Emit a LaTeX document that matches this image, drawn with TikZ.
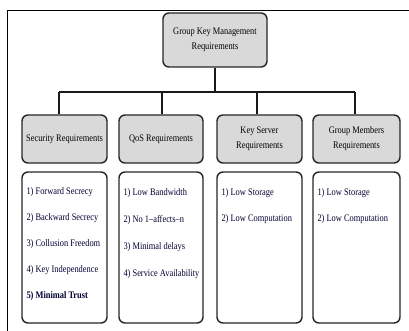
\documentclass[tikz,border=0pt]{standalone}
\usepackage{fontspec}
\setmainfont[FakeStretch=0.84]{Liberation Serif}
\usepackage{tikz}
\usetikzlibrary{calc,positioning}
\tikzset{
  head/.style={draw=black!85,line width=1.4pt,rounded corners=6pt,fill=black!15,
    align=center,font=\fontsize{10}{15}\selectfont,inner sep=0pt},
  listbox/.style={draw=black!85,line width=1.4pt,rounded corners=6pt,fill=white,
    minimum height=151pt,inner sep=0pt},
  item/.style={anchor=west,inner sep=0pt,font=\fontsize{10}{10}\selectfont,text=black!80!blue},
  link/.style={line width=1.3pt,draw=black!90}
}
\begin{document}
\begin{tikzpicture}[x=1pt,y=-1pt]
\useasboundingbox (0,0) rectangle (409,331);
\draw[line width=0.9pt] (7,345) |- (430,10);

\node[head,minimum width=104pt,minimum height=54pt] (gkm) at (215,40) {Group Key Management\\Requirements};

\foreach \n/\x/\w/\t in {sec/64.5/85/Security Requirements,
                         qos/161/84/QoS Requirements,
                         ks/259.5/85/{Key Server\\Requirements},
                         gm/356.5/87/{Group Members\\Requirements}}
{
  \node[head,minimum width=\w pt,minimum height=48pt] (\n) at (\x,139) {\t};
  \node[listbox,minimum width=\w pt] (\n-list) at (\x,247.5) {};
}

\coordinate (bus) at (215,92);
\coordinate (busL) at (59,92);
\coordinate (busR) at (355,92);
\draw[link] (gkm.south) -- (bus);
\draw[link] (busL) -- (busR);
\foreach \n/\dx in {sec/-5.5,qos/1,ks/-2.5,gm/-1.5}
  \draw[link] ([xshift=\dx pt]\n.north) -- ([xshift=\dx pt]\n.north |- bus);

\foreach \i/\t in {1/1) Forward Secrecy,2/2) Backward Secrecy,3/3) Collusion Freedom,
                   4/4) Key Independence,5/\textbf{5) Minimal Trust}}
  \node[item] (sec-\i) at ($(sec-list.north west)+(5,21+26*\i-26)$) {\t};
\foreach \i/\t in {1/1) Low Bandwidth,2/2) No 1--affects--n,3/3) Minimal delays,4/4) Service Availability}
  \node[item] (qos-\i) at ($(qos-list.north west)+(5,22+27*\i-27)$) {\t};
\foreach \i/\t in {1/1) Low Storage,2/2) Low Computation}
  \node[item] (ks-\i) at ($(ks-list.north west)+(5,22+26*\i-26)$) {\t};
\foreach \i/\t in {1/1) Low Storage,2/2) Low Computation}
  \node[item] (gm-\i) at ($(gm-list.north west)+(5,22+26*\i-26)$) {\t};
\end{tikzpicture}
\end{document}
